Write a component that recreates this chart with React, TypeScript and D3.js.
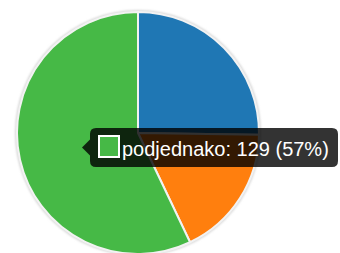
import React from "react";
import * as d3 from "d3";

const labels = ["da", "ne", "podjednako"];
const values = [57, 40, 129];
const colors = ["#1f77b4", "#ff7f0e", "#46b946"];
const hoverIndex = 2;

export default function App() {
  const W = 340, H = 253;
  const cx = 138, cy = 133, r = 121;
  const pie = d3.pie<number>().sort(null).value((d) => d)(values);
  const arc = d3.arc<d3.PieArcDatum<number>>().innerRadius(0).outerRadius(r);
  const total = d3.sum(values);
  const pct = Math.round((values[hoverIndex] / total) * 100);
  const text = `${labels[hoverIndex]}: ${values[hoverIndex]} (${pct}%)`;
  const tx = 90, ty = 128, tw = 248, th = 39;
  return (
    <svg width={W} height={H} style={{ position: "absolute", left: 0, top: 0 }}>
      <defs>
        <filter id="blur" x="-10%" y="-10%" width="120%" height="120%">
          <feGaussianBlur stdDeviation="1" />
        </filter>
      </defs>
      <circle cx={cx} cy={cy} r={r + 0.5} fill="none" stroke="#d8d8d8" strokeWidth={3} filter="url(#blur)" />
      <g transform={`translate(${cx},${cy})`}>
        {pie.map((p, i) => (
          <path key={i} d={arc(p) || ""} fill={colors[i]} stroke="#f2f2f2" strokeWidth={2} strokeLinejoin="round" />
        ))}
      </g>
      <g>
        <path
          d={`M${tx + 6},${ty} H${tx + tw - 6} Q${tx + tw},${ty} ${tx + tw},${ty + 6} V${ty + th - 6} Q${tx + tw},${ty + th} ${tx + tw - 6},${ty + th} H${tx + 6} Q${tx},${ty + th} ${tx},${ty + th - 6} V${ty + th / 2 + 8} L${tx - 8},${ty + th / 2} L${tx},${ty + th / 2 - 8} V${ty + 6} Q${tx},${ty} ${tx + 6},${ty} Z`}
          fill="rgba(0,0,0,0.8)"
        />
        <rect x={99} y={136} width={20} height={21} fill={colors[hoverIndex]} stroke="#ffffff" strokeWidth={2} />
        <text x={122} y={156} fill="#ffffff" fontFamily="'Liberation Sans', Arial, sans-serif" fontSize={20}>
          {text}
        </text>
      </g>
    </svg>
  );
}
